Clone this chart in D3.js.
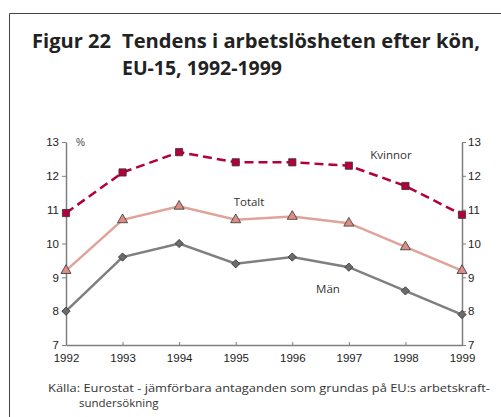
<!DOCTYPE html>
<html lang="sv">
<head>
  <meta charset="UTF-8">
  <title>Figur 22</title>
  <script src="https://cdn.jsdelivr.net/npm/d3@7"></script>
  <style>
    body { margin: 0; background: #fff; }
  </style>
</head>
<body>
  <div id="container"></div>

  <script>
    // Data
    const years = [1992, 1993, 1994, 1995, 1996, 1997, 1998, 1999];
    const kvinnor = [10.9, 12.1, 12.7, 12.4, 12.4, 12.3, 11.7, 10.85];
    const totalt = [9.2, 10.7, 11.1, 10.7, 10.8, 10.6, 9.9, 9.2];
    const man = [8.0, 9.6, 10.0, 9.4, 9.6, 9.3, 8.6, 7.9];
    const yTicks = [7, 8, 9, 10, 11, 12, 13];

    const width = 501;
    const height = 417;
    const marginLeft = 66;
    const marginRight = 39;   // right axis at 462
    const marginTop = 142;
    const bottomY = 345;

    const tickFont = "'Liberation Sans Narrow', 'Arial Narrow', 'Liberation Sans', sans-serif";
    const textFont = "'Open Sans', 'Noto Sans', sans-serif";

    const svg = d3.select("#container")
      .append("svg")
      .attr("width", width)
      .attr("height", height)
      .attr("viewBox", [0, 0, width, height]);

    // Ram
    svg.append("path")
      .attr("d", "M9.5,417V13.5H501")
      .attr("fill", "none")
      .attr("stroke", "#444")
      .attr("stroke-width", 1);

    // Rubrik
    svg.append("text")
      .attr("x", 32).attr("y", 48)
      .attr("font-family", textFont).attr("font-weight", 700)
      .attr("font-size", 19).attr("fill", "#222")
      .attr("textLength", 79).attr("lengthAdjust", "spacingAndGlyphs")
      .text("Figur 22");
    svg.append("text")
      .attr("x", 122).attr("y", 48)
      .attr("font-family", textFont).attr("font-weight", 700)
      .attr("font-size", 19).attr("fill", "#222")
      .attr("textLength", 358).attr("lengthAdjust", "spacingAndGlyphs")
      .text("Tendens i arbetslösheten efter kön,");
    svg.append("text")
      .attr("x", 122).attr("y", 75)
      .attr("font-family", textFont).attr("font-weight", 700)
      .attr("font-size", 19).attr("fill", "#222")
      .attr("textLength", 160).attr("lengthAdjust", "spacingAndGlyphs")
      .text("EU-15, 1992-1999");

    // Skalor
    const x = d3.scaleLinear()
      .domain([1992, 1999])
      .range([marginLeft, width - marginRight]);

    const y = d3.scaleLinear()
      .domain([7, 13])
      .range([bottomY, marginTop]);

    // Axlar
    const axisColor = "#7f7f7f";

    const styleAxis = g => {
      g.select(".domain").attr("stroke", axisColor).attr("stroke-width", 1.5);
      g.selectAll(".tick line").attr("stroke", axisColor).attr("stroke-width", 1);
      g.selectAll(".tick text")
        .attr("font-family", tickFont)
        .attr("font-size", 11.5)
        .attr("fill", "#222");
    };

    svg.append("g")
      .attr("transform", `translate(0,${bottomY})`)
      .call(d3.axisBottom(x).tickValues(years).tickFormat(d3.format("d"))
        .tickSizeInner(-3).tickSizeOuter(0).tickPadding(9))
      .call(styleAxis);

    svg.append("g")
      .attr("transform", `translate(${marginLeft},0)`)
      .call(d3.axisLeft(y).tickValues(yTicks).tickFormat(d3.format("d"))
        .tickSizeInner(4).tickSizeOuter(0).tickPadding(3))
      .call(styleAxis);

    svg.append("g")
      .attr("transform", `translate(${width - marginRight},0)`)
      .call(d3.axisRight(y).tickValues(yTicks).tickFormat(d3.format("d"))
        .tickSizeInner(4).tickSizeOuter(0).tickPadding(2))
      .call(styleAxis);

    svg.append("text")
      .attr("x", 76).attr("y", 146)
      .attr("font-family", tickFont).attr("font-size", 10)
      .attr("fill", "#444")
      .text("%");

    // Serier
    const series = [
      { name: "Män", values: man, line: "#7f7f7f", fill: "#6b6b6b", symbol: d3.symbolSquare, size: 34, rotate: 45, dash: null },
      { name: "Totalt", values: totalt, line: "#e0a39a", fill: "#dc8e84", symbol: d3.symbolTriangle, size: 44, rotate: 0, dash: null },
      { name: "Kvinnor", values: kvinnor, line: "#b3003b", fill: "#b3003b", symbol: d3.symbolSquare, size: 52, rotate: 0, dash: "9,5" }
    ];

    const line = d3.line()
      .x((d, i) => x(years[i]))
      .y(d => y(d));

    series.forEach(s => {
      svg.append("path")
        .datum(s.values)
        .attr("fill", "none")
        .attr("stroke", s.line)
        .attr("stroke-width", 2.5)
        .attr("stroke-dasharray", s.dash)
        .attr("d", line);

      svg.append("g")
        .selectAll("path")
        .data(s.values)
        .join("path")
        .attr("transform", (d, i) => `translate(${x(years[i])},${y(d)}) rotate(${s.rotate})`)
        .attr("d", d3.symbol(s.symbol, s.size))
        .attr("fill", s.fill)
        .attr("stroke", "#333")
        .attr("stroke-width", 0.8);
    });

    // Seriernamn
    const labels = [
      { text: "Kvinnor", x: 391, y: 159 },
      { text: "Totalt", x: 249, y: 206 },
      { text: "Män", x: 328, y: 293 }
    ];
    svg.append("g")
      .selectAll("text")
      .data(labels)
      .join("text")
      .attr("x", d => d.x).attr("y", d => d.y)
      .attr("text-anchor", "middle")
      .attr("font-family", textFont)
      .attr("font-size", 11.5)
      .attr("fill", "#333")
      .text(d => d.text);

    // Källa
    svg.append("text")
      .attr("x", 48).attr("y", 392)
      .attr("font-family", textFont).attr("font-size", 11.5)
      .attr("fill", "#333")
      .attr("textLength", 442).attr("lengthAdjust", "spacingAndGlyphs")
      .text("Källa: Eurostat - jämförbara antaganden som grundas på EU:s arbetskraft-");
    svg.append("text")
      .attr("x", 79).attr("y", 407)
      .attr("font-family", textFont).attr("font-size", 11.5)
      .attr("fill", "#333")
      .text("sundersökning");
  </script>
</body>
</html>
